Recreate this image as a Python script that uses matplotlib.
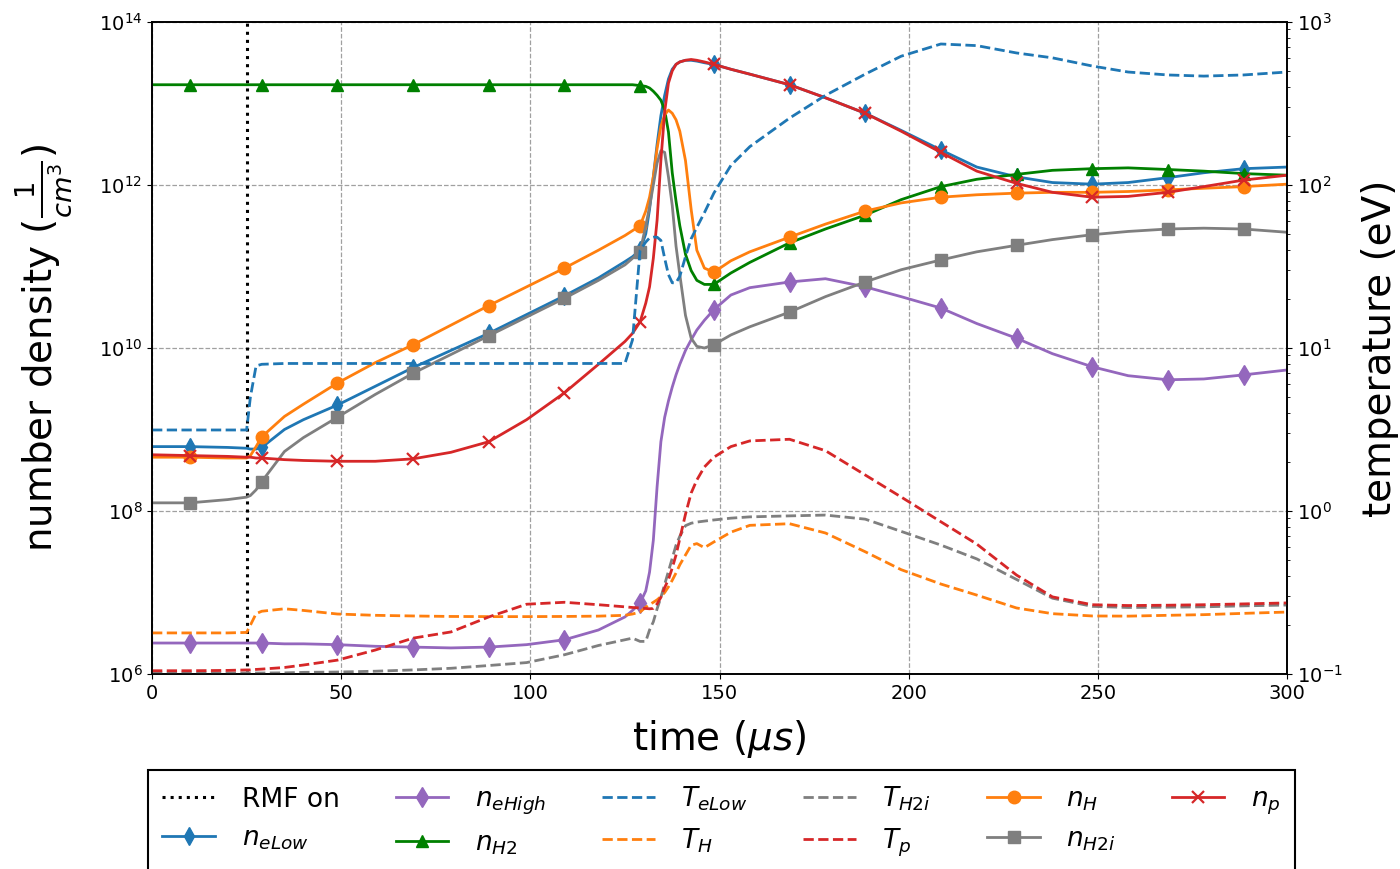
import numpy as np
import matplotlib
matplotlib.use("Agg")
import matplotlib.pyplot as plt

# time grid (microseconds)
t = [0, 10, 20, 25, 26, 27.5, 29, 35, 40, 49, 59, 69, 79, 89, 99, 109, 118, 125, 127, 129,
     130.5, 131.5, 132.5, 133.5, 134.5, 135.5, 136.5, 137.5, 138.5, 139.5, 141, 142.5, 144, 146,
     148.5, 153, 158, 168.5, 178, 188.5, 198, 208.5, 218, 228.5, 238, 248.5, 258, 268.5, 278,
     288.5, 300]

# times that carry markers
marker_t = [10, 29, 49, 69, 89, 109, 129, 148.5, 168.5, 188.5, 208.5, 228.5, 248.5, 268.5, 288.5]

rmf_on = 25

# densities, log10(cm^-3)
log_n_eLow = [8.79, 8.79, 8.78, 8.77, 8.76, 8.76, 8.78, 9.00, 9.12, 9.30, 9.53, 9.76, 9.97, 10.18,
              10.41, 10.64, 10.86, 11.06, 11.12, 11.20, 11.40, 11.70, 12.10, 12.50, 12.85, 13.10,
              13.30, 13.42, 13.48, 13.51, 13.53, 13.53, 13.52, 13.50, 13.48, 13.42, 13.36, 13.23,
              13.07, 12.88, 12.67, 12.43, 12.22, 12.10, 12.03, 12.01, 12.03, 12.09, 12.15, 12.20,
              12.22]
log_n_eHigh = [6.38, 6.38, 6.38, 6.38, 6.38, 6.38, 6.38, 6.37, 6.37, 6.36, 6.34, 6.33, 6.32, 6.33,
               6.36, 6.42, 6.54, 6.70, 6.78, 6.87, 7.02, 7.25, 7.64, 8.30, 8.85, 9.15, 9.35, 9.52,
               9.67, 9.80, 9.97, 10.10, 10.22, 10.34, 10.47, 10.65, 10.74, 10.81, 10.85, 10.75,
               10.63, 10.49, 10.30, 10.12, 9.93, 9.77, 9.66, 9.61, 9.62, 9.67, 9.73]
log_n_H2 = [13.23, 13.23, 13.23, 13.23, 13.23, 13.23, 13.23, 13.23, 13.23, 13.23, 13.23, 13.23,
            13.23, 13.23, 13.23, 13.23, 13.23, 13.23, 13.23, 13.22, 13.21, 13.19, 13.15, 13.10,
            13.04, 12.92, 12.65, 12.15, 11.80, 11.50, 11.15, 10.95, 10.83, 10.78, 10.78, 10.92,
            11.05, 11.29, 11.46, 11.63, 11.82, 11.98, 12.07, 12.13, 12.18, 12.20, 12.21, 12.19,
            12.17, 12.14, 12.12]
log_n_H = [8.66, 8.66, 8.65, 8.65, 8.68, 8.79, 8.91, 9.16, 9.31, 9.57, 9.82, 10.04, 10.28, 10.52,
           10.75, 10.98, 11.20, 11.38, 11.44, 11.50, 11.68, 11.85, 12.10, 12.45, 12.72, 12.86,
           12.92, 12.88, 12.80, 12.66, 12.30, 11.70, 11.20, 10.98, 10.93, 11.07, 11.18, 11.36,
           11.52, 11.68, 11.78, 11.85, 11.88, 11.90, 11.91, 11.91, 11.92, 11.94, 11.96, 11.98,
           12.01]
log_n_H2i = [8.10, 8.10, 8.14, 8.17, 8.19, 8.26, 8.36, 8.73, 8.90, 9.15, 9.43, 9.69, 9.92, 10.15,
             10.38, 10.61, 10.83, 11.02, 11.10, 11.18, 11.50, 11.73, 12.00, 12.27, 12.42, 12.40,
             12.10, 11.75, 11.25, 10.90, 10.40, 10.12, 10.02, 10.00, 10.04, 10.16, 10.26, 10.44,
             10.63, 10.81, 10.96, 11.08, 11.18, 11.26, 11.33, 11.39, 11.43, 11.46, 11.47, 11.46,
             11.42]
log_n_p = [8.69, 8.68, 8.67, 8.66, 8.66, 8.65, 8.65, 8.63, 8.62, 8.61, 8.61, 8.64, 8.72, 8.85,
           9.12, 9.45, 9.80, 10.08, 10.18, 10.32, 10.55, 10.75, 11.10, 11.57, 12.30, 12.90, 13.25,
           13.40, 13.48, 13.51, 13.53, 13.54, 13.53, 13.51, 13.48, 13.42, 13.36, 13.23, 13.07,
           12.88, 12.66, 12.40, 12.17, 12.02, 11.91, 11.85, 11.86, 11.91, 11.98, 12.06, 12.12]

# temperatures, log10(eV)
log_T_eLow = [0.497, 0.497, 0.497, 0.497, 0.70, 0.89, 0.90, 0.905, 0.905, 0.905, 0.905, 0.905,
              0.905, 0.905, 0.905, 0.905, 0.905, 0.905, 1.05, 1.60, 1.65, 1.675, 1.68, 1.68, 1.66,
              1.55, 1.45, 1.40, 1.40, 1.44, 1.56, 1.67, 1.74, 1.83, 1.95, 2.12, 2.235, 2.41, 2.55,
              2.68, 2.79, 2.865, 2.855, 2.81, 2.78, 2.73, 2.693, 2.675, 2.668, 2.675, 2.693]
log_T_H = [-0.748, -0.748, -0.748, -0.745, -0.70, -0.63, -0.615, -0.60, -0.61, -0.632, -0.64,
           -0.644, -0.647, -0.648, -0.648, -0.647, -0.645, -0.64, -0.632, -0.62, -0.59, -0.575,
           -0.56, -0.545, -0.525, -0.50, -0.465, -0.425, -0.38, -0.33, -0.27, -0.21, -0.20,
           -0.225, -0.19, -0.13, -0.088, -0.078, -0.135, -0.25, -0.36, -0.448, -0.516, -0.595,
           -0.63, -0.644, -0.645, -0.64, -0.636, -0.628, -0.62]
log_T_H2i = [-0.994, -0.994, -0.994, -0.994, -0.994, -0.994, -0.994, -0.993, -0.99, -0.988,
             -0.983, -0.975, -0.965, -0.948, -0.93, -0.882, -0.825, -0.79, -0.78, -0.80, -0.80,
             -0.73, -0.68, -0.60, -0.53, -0.45, -0.37, -0.29, -0.21, -0.155, -0.09, -0.075,
             -0.068, -0.062, -0.055, -0.044, -0.036, -0.03, -0.025, -0.05, -0.125, -0.209, -0.294,
             -0.42, -0.535, -0.585, -0.592, -0.59, -0.588, -0.582, -0.577]
log_T_p = [-0.98, -0.98, -0.978, -0.975, -0.975, -0.972, -0.97, -0.96, -0.945, -0.915, -0.853,
           -0.78, -0.742, -0.65, -0.572, -0.56, -0.575, -0.588, -0.592, -0.595, -0.598, -0.60,
           -0.598, -0.57, -0.53, -0.47, -0.42, -0.35, -0.27, -0.17, -0.02, 0.11, 0.19, 0.27,
           0.33, 0.395, 0.43, 0.44, 0.37, 0.221, 0.086, -0.066, -0.203, -0.393, -0.527, -0.575,
           -0.58, -0.578, -0.575, -0.57, -0.564]

t = np.array(t)
marks = [int(np.argmin(np.abs(t - m))) for m in marker_t]


def dens(v):
    return 10.0 ** np.array(v)


fig = plt.figure(figsize=(14, 8.69), dpi=100)
ax = fig.add_axes([0.1086, 0.2244, 0.8107, 0.7503])
ax2 = ax.twinx()

lw = 2
ms = 9

rmf, = ax.plot([rmf_on, rmf_on], [1e6, 1e14], ':', color='black', lw=2.2, label='RMF on')
l_eLow, = ax.plot(t, dens(log_n_eLow), '-d', color='C0', lw=lw, ms=ms, markevery=marks,
                  label=r'$n_{eLow}$')
l_eHigh, = ax.plot(t, dens(log_n_eHigh), '-d', color='C4', lw=lw, ms=ms + 1, markevery=marks,
                   label=r'$n_{eHigh}$')
l_H2, = ax.plot(t, dens(log_n_H2), '-^', color='green', lw=lw, ms=ms, markevery=marks,
                label=r'$n_{H2}$')
l_H, = ax.plot(t, dens(log_n_H), '-o', color='C1', lw=lw, ms=ms, markevery=marks,
               label=r'$n_H$')
l_H2i, = ax.plot(t, dens(log_n_H2i), '-s', color='C7', lw=lw, ms=ms, markevery=marks,
                 label=r'$n_{H2i}$')
l_p, = ax.plot(t, dens(log_n_p), '-x', color='C3', lw=lw, ms=ms, mew=1.6, markevery=marks,
               label=r'$n_p$')

T_eLow, = ax2.plot(t, dens(log_T_eLow), '--', color='C0', lw=lw, label=r'$T_{eLow}$')
T_H, = ax2.plot(t, dens(log_T_H), '--', color='C1', lw=lw, label=r'$T_H$')
T_H2i, = ax2.plot(t, dens(log_T_H2i), '--', color='C7', lw=lw, label=r'$T_{H2i}$')
T_p, = ax2.plot(t, dens(log_T_p), '--', color='C3', lw=lw, label=r'$T_p$')

ax.set_yscale('log')
ax2.set_yscale('log')
ax.set_xlim(0, 300)
ax.set_ylim(1e6, 1e14)
ax2.set_ylim(0.1, 1000)
ax.set_yticks([1e6, 1e8, 1e10, 1e12, 1e14])
ax.yaxis.set_minor_locator(matplotlib.ticker.NullLocator())

ax.grid(True, which='major', linestyle='--', color='#a0a0a0', lw=0.9)
ax.tick_params(labelsize=14)
ax2.tick_params(labelsize=14)
for a in (ax, ax2):
    for s in a.spines.values():
        s.set_linewidth(1.2)

ax.set_xlabel(r'time ($\mu s$)', fontsize=28, labelpad=11)
ax.set_ylabel(r'number density ($\frac{1}{cm^3}$)', fontsize=28, labelpad=18)
ax2.set_ylabel('temperature (eV)', fontsize=28, labelpad=13)

handles = [rmf, l_eLow, l_eHigh, l_H2, T_eLow, T_H, T_H2i, T_p, l_H, l_H2i, l_p]
leg = fig.legend(handles=handles, loc='upper left', ncol=6, mode='expand',
                 bbox_to_anchor=(0.1057, 0.0, 0.8193, 0.1139), borderaxespad=0,
                 fontsize=19, fancybox=False, edgecolor='black', framealpha=1,
                 handletextpad=1.0, handlelength=2.0, borderpad=0.55)
leg.get_frame().set_linewidth(1.5)

fig.savefig('out.png', dpi=100)
